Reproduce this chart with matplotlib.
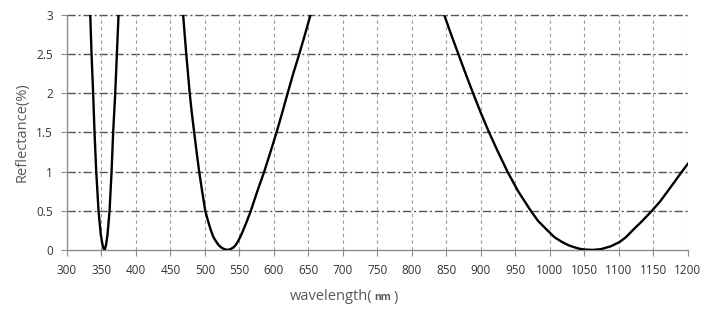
import matplotlib.pyplot as plt

# reflectance curves (wavelength nm, reflectance %)
band1_wl = [333.8, 335.7, 338.0, 340.0, 342.5, 345.8, 349.0, 351.5, 353.0, 354.2, 355.4, 356.8, 358.9, 361.8, 364.7, 367.0, 370.0, 372.4, 374.8]
band1_r = [3.0, 2.5, 2.0, 1.5, 1.0, 0.5, 0.2, 0.07, 0.02, 0.0, 0.02, 0.07, 0.2, 0.5, 1.0, 1.5, 2.0, 2.5, 3.0]

band2_wl = [468.5, 470.7, 473.0, 475.5, 478.0, 481.0, 484.5, 488.0, 491.7, 496.0, 500.5, 504.5, 508.7, 512.0,
            516.0, 520.0, 524.0, 528.0, 533.0, 537.0, 541.0, 544.5, 548.0, 551.5, 555.5, 561.0, 566.6, 576.0,
            586.0, 595.0, 603.8, 612.0, 619.9, 628.0, 636.7, 645.0, 653.0]
band2_r = [3.0, 2.75, 2.5, 2.25, 2.0, 1.75, 1.5, 1.25, 1.0, 0.75, 0.5, 0.37, 0.25, 0.17,
           0.11, 0.06, 0.03, 0.01, 0.0, 0.01, 0.03, 0.06, 0.11, 0.17, 0.25, 0.37, 0.5, 0.75,
           1.0, 1.25, 1.5, 1.75, 2.0, 2.25, 2.5, 2.75, 3.0]

band3_wl = [847.0, 857.0, 867.5, 878.0, 888.8, 900.0, 912.0, 925.0, 938.6, 954.0, 972.4, 983.0, 996.5, 1007.0,
            1018.0, 1027.0, 1035.0, 1043.0, 1050.0, 1062.0, 1074.0, 1088.0, 1101.0, 1110.0, 1120.0, 1134.0,
            1148.0, 1160.0, 1170.0, 1180.0, 1189.0, 1200.0]
band3_r = [3.0, 2.75, 2.5, 2.25, 2.0, 1.75, 1.5, 1.25, 1.0, 0.75, 0.5, 0.37, 0.25, 0.16,
           0.1, 0.06, 0.035, 0.015, 0.005, 0.0, 0.01, 0.045, 0.1, 0.16, 0.25, 0.37,
           0.5, 0.62, 0.74, 0.86, 0.97, 1.1]

xticks = list(range(300, 1201, 50))
yticks = [0, 0.5, 1, 1.5, 2, 2.5, 3]
ytick_labels = ['0', '0.5', '1', '1.5', '2', '2.5', '3']

plt.rcParams['font.family'] = ['Open Sans', 'DejaVu Sans']

fig = plt.figure(figsize=(7.12, 3.2), dpi=100)
ax = fig.add_axes([0.094, 0.219, 0.872, 0.734])

for wl, r in [(band1_wl, band1_r), (band2_wl, band2_r), (band3_wl, band3_r)]:
    ax.plot(wl, r, color='black', lw=1.7, solid_joinstyle='round', zorder=3)

ax.set_xlim(300, 1200)
ax.set_ylim(0, 3)
ax.set_xticks(xticks)
ax.set_yticks(yticks)
ax.set_yticklabels(ytick_labels)

# grid: dash-dot horizontals, dashed verticals
for y in yticks[1:]:
    ax.axhline(y, color='#555555', lw=1.0, ls=(0, (6, 2, 1.5, 2)), zorder=1, clip_on=False)
for x in xticks[1:]:
    ax.axvline(x, color='#9a9a9a', lw=0.8, ls=(0, (3, 3)), zorder=1)

for s in ['top', 'right']:
    ax.spines[s].set_visible(False)
for s in ['left', 'bottom']:
    ax.spines[s].set_color('#8c8c8c')
    ax.spines[s].set_linewidth(1.0)

ax.tick_params(axis='both', colors='#8c8c8c', labelcolor='#333333', labelsize=8.5, length=4, width=0.8)
ax.tick_params(axis='y', pad=6)
ax.tick_params(axis='x', pad=6)

fig.text(0.031, 0.587, 'Reflectance(%)', rotation=90, ha='center', va='center', fontsize=10.5, color='#595959')

# x label built from pieces: "wavelength(" + bold small "nm" + ")"
r = fig.canvas.get_renderer()
x0 = 290 / 712
yl = 1 - 297 / 320
t1 = fig.text(x0, yl, 'wavelength(', ha='left', va='center', fontsize=10.5, color='#595959')
bb = t1.get_window_extent(r)
t2 = fig.text(bb.x1 / 712 + 0.002, yl, 'nm', ha='left', va='center', fontsize=7.5, fontweight='bold', color='#595959')
bb2 = t2.get_window_extent(r)
fig.text(bb2.x1 / 712 + 0.004, yl, ')', ha='left', va='center', fontsize=10.5, color='#595959')

fig.savefig('out.png', dpi=100)
